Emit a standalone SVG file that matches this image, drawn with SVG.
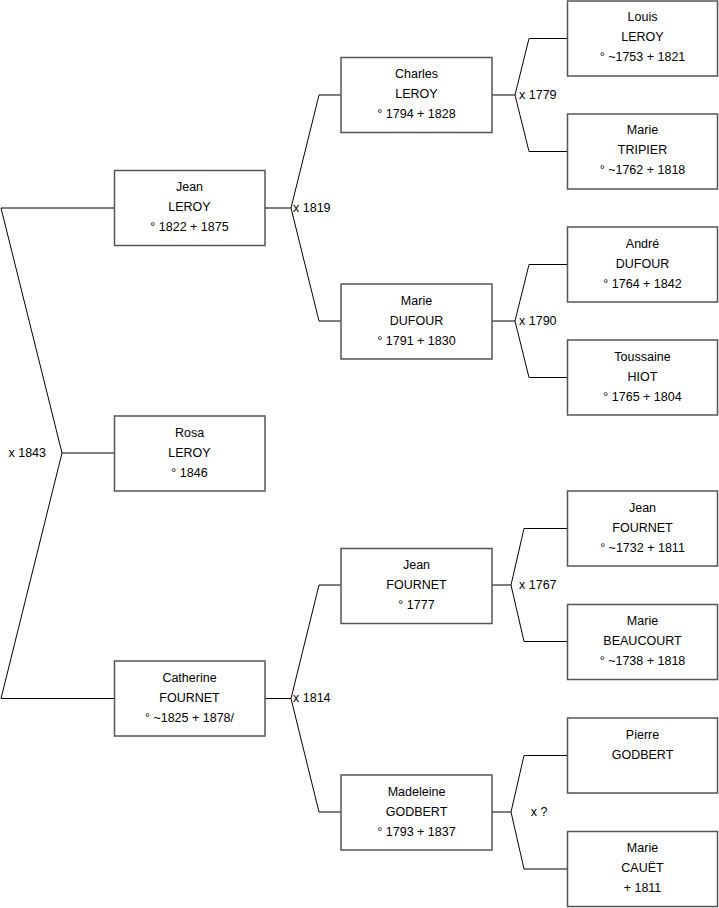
<svg xmlns="http://www.w3.org/2000/svg" width="719" height="908" viewBox="0 0 719 908">
<style>
.box{fill:#fff;stroke:#555;stroke-width:1.5}
.t{font-family:"Liberation Sans",Arial,sans-serif;font-size:12.5px;fill:#000;text-anchor:middle}
.l{font-family:"Liberation Sans",Arial,sans-serif;font-size:12.5px;fill:#000}
.c{fill:none;stroke:#000;stroke-width:1}
</style>
<rect width="719" height="908" fill="#fff"/>
<g id="connectors">
<polyline class="c" points="114,208 1,208 62,453 1,698.5 114,698.5"/>
<line class="c" x1="62" y1="453" x2="114" y2="453"/>
<text class="l" x="46" y="457" text-anchor="end">x 1843</text>
<polyline class="c" points="341,95 319,95 291,208 319,321 341,321"/>
<line class="c" x1="265" y1="208" x2="291" y2="208"/>
<text class="l" x="293" y="212">x 1819</text>
<polyline class="c" points="341,585 319,585 291,698.5 319,812 341,812"/>
<line class="c" x1="265" y1="698.5" x2="291" y2="698.5"/>
<text class="l" x="293" y="702">x 1814</text>
<polyline class="c" points="567,38.5 529,38.5 515,95 529,151.5 567,151.5"/>
<line class="c" x1="492" y1="95" x2="515" y2="95"/>
<text class="l" x="519" y="99">x 1779</text>
<polyline class="c" points="567,264.5 529,264.5 515,321 529,377.5 567,377.5"/>
<line class="c" x1="492" y1="321" x2="515" y2="321"/>
<text class="l" x="519" y="325">x 1790</text>
<polyline class="c" points="567,528.5 524,528.5 511,585 524,641.5 567,641.5"/>
<line class="c" x1="492" y1="585" x2="511" y2="585"/>
<text class="l" x="519" y="589">x 1767</text>
<polyline class="c" points="567,755.5 524,755.5 511,812 524,869 567,869"/>
<line class="c" x1="492" y1="812" x2="511" y2="812"/>
<text class="l" x="539" y="816" text-anchor="middle">x ?</text>
</g>
<g id="jean-leroy"><rect class="box" x="114.5" y="170.5" width="150.5" height="75"/><text class="t" x="189.5" y="191">Jean</text><text class="t" x="189.5" y="211">LEROY</text><text class="t" x="189.5" y="231">° 1822 + 1875</text></g>
<g id="rosa-leroy"><rect class="box" x="114.5" y="416" width="150.5" height="75"/><text class="t" x="189.5" y="437">Rosa</text><text class="t" x="189.5" y="457">LEROY</text><text class="t" x="189.5" y="477">° 1846</text></g>
<g id="catherine-fournet"><rect class="box" x="114.5" y="661" width="150.5" height="75"/><text class="t" x="189.5" y="681.5">Catherine</text><text class="t" x="189.5" y="701.5">FOURNET</text><text class="t" x="189.5" y="721.5">° ~1825 + 1878/</text></g>
<g id="charles-leroy"><rect class="box" x="341" y="57.5" width="151" height="75"/><text class="t" x="416.5" y="77.5">Charles</text><text class="t" x="416.5" y="97.5">LEROY</text><text class="t" x="416.5" y="117.5">° 1794 + 1828</text></g>
<g id="marie-dufour"><rect class="box" x="341" y="284" width="151" height="75"/><text class="t" x="416.5" y="304.5">Marie</text><text class="t" x="416.5" y="324.5">DUFOUR</text><text class="t" x="416.5" y="344.5">° 1791 + 1830</text></g>
<g id="jean-fournet-1777"><rect class="box" x="341" y="548.5" width="151" height="75"/><text class="t" x="416.5" y="568.5">Jean</text><text class="t" x="416.5" y="588.5">FOURNET</text><text class="t" x="416.5" y="608.5">° 1777</text></g>
<g id="madeleine-godbert"><rect class="box" x="341" y="775" width="151" height="75"/><text class="t" x="416.5" y="795.5">Madeleine</text><text class="t" x="416.5" y="815.5">GODBERT</text><text class="t" x="416.5" y="835.5">° 1793 + 1837</text></g>
<g id="louis-leroy"><rect class="box" x="567.5" y="1" width="150" height="75"/><text class="t" x="642.5" y="21">Louis</text><text class="t" x="642.5" y="41">LEROY</text><text class="t" x="642.5" y="61">° ~1753 + 1821</text></g>
<g id="marie-tripier"><rect class="box" x="567.5" y="114" width="150" height="75"/><text class="t" x="642.5" y="134">Marie</text><text class="t" x="642.5" y="154">TRIPIER</text><text class="t" x="642.5" y="174">° ~1762 + 1818</text></g>
<g id="andre-dufour"><rect class="box" x="567.5" y="227" width="150" height="75"/><text class="t" x="642.5" y="247.5">André</text><text class="t" x="642.5" y="267.5">DUFOUR</text><text class="t" x="642.5" y="287.5">° 1764 + 1842</text></g>
<g id="toussaine-hiot"><rect class="box" x="567.5" y="340" width="150" height="75"/><text class="t" x="642.5" y="360.5">Toussaine</text><text class="t" x="642.5" y="380.5">HIOT</text><text class="t" x="642.5" y="400.5">° 1765 + 1804</text></g>
<g id="jean-fournet-1732"><rect class="box" x="567.5" y="491" width="150" height="75"/><text class="t" x="642.5" y="511.5">Jean</text><text class="t" x="642.5" y="531.5">FOURNET</text><text class="t" x="642.5" y="551.5">° ~1732 + 1811</text></g>
<g id="marie-beaucourt"><rect class="box" x="567.5" y="604.5" width="150" height="75"/><text class="t" x="642.5" y="624.5">Marie</text><text class="t" x="642.5" y="644.5">BEAUCOURT</text><text class="t" x="642.5" y="664.5">° ~1738 + 1818</text></g>
<g id="pierre-godbert"><rect class="box" x="567.5" y="718" width="150" height="75"/><text class="t" x="642.5" y="738.5">Pierre</text><text class="t" x="642.5" y="758.5">GODBERT</text></g>
<g id="marie-cauet"><rect class="box" x="567.5" y="831.5" width="150" height="75"/><text class="t" x="642.5" y="852">Marie</text><text class="t" x="642.5" y="872">CAUËT</text><text class="t" x="642.5" y="892">+ 1811</text></g>
</svg>
